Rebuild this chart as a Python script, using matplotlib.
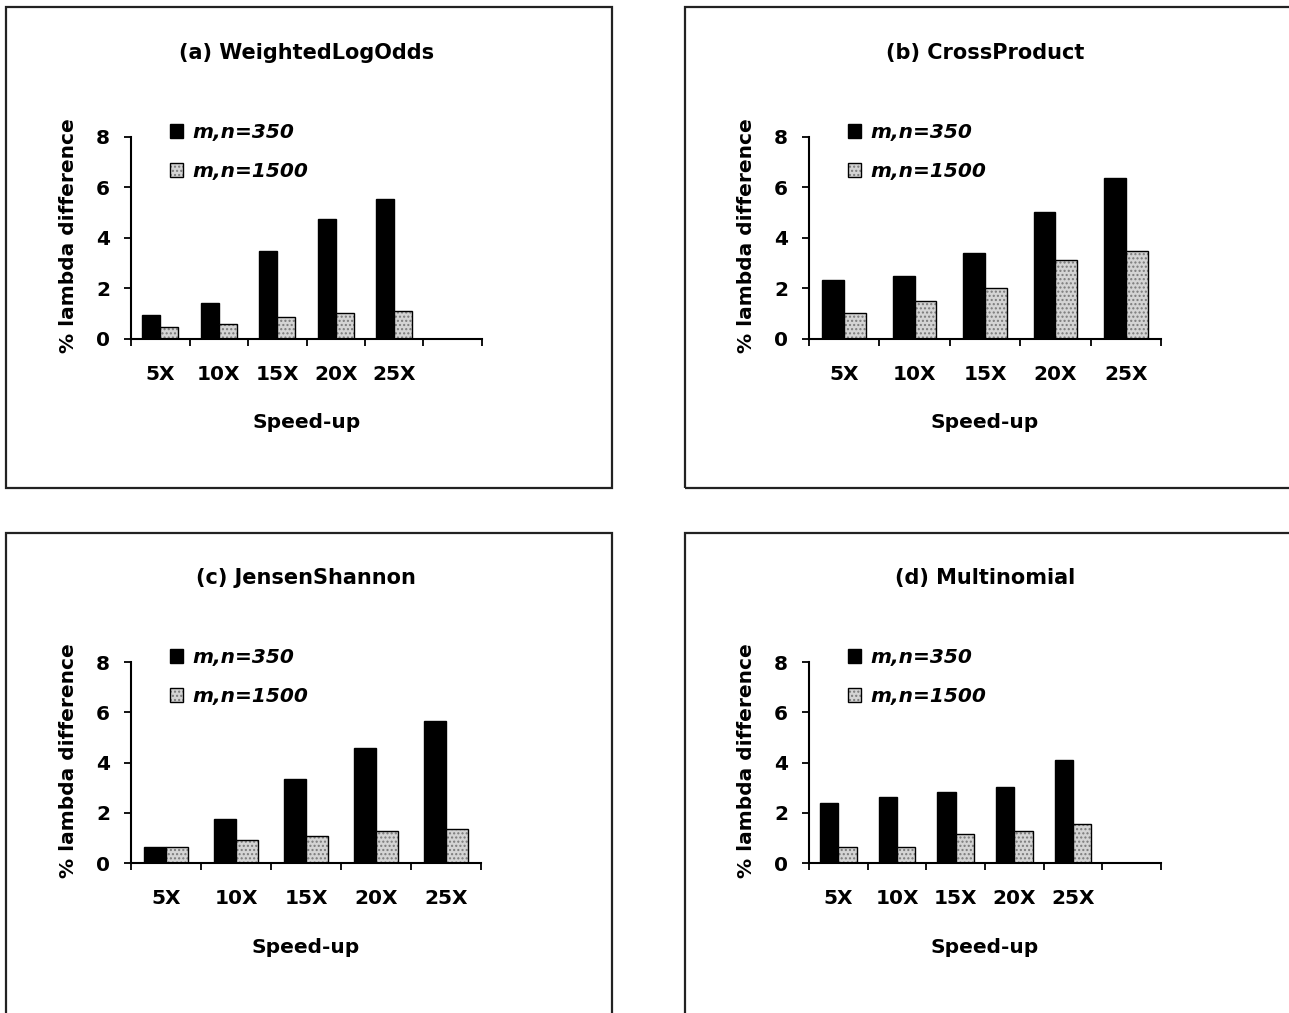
import numpy as np
import matplotlib
matplotlib.use('Agg')
import matplotlib.pyplot as plt
from matplotlib.patches import Rectangle

# data
speedups = ['5X', '10X', '15X', '20X', '25X']
titles = ['(a) WeightedLogOdds', '(b) CrossProduct',
          '(c) JensenShannon', '(d) Multinomial']
series_names = ['m,n=350', 'm,n=1500']

wlo_350 = [0.95, 1.41, 3.48, 4.77, 5.56]
wlo_1500 = [0.47, 0.59, 0.86, 1.04, 1.12]
cp_350 = [2.32, 2.49, 3.39, 5.01, 6.39]
cp_1500 = [1.04, 1.49, 2.02, 3.11, 3.48]
js_350 = [0.64, 1.74, 3.36, 4.58, 5.67]
js_1500 = [0.64, 0.90, 1.08, 1.26, 1.37]
mn_350 = [2.37, 2.64, 2.84, 3.03, 4.10]
mn_1500 = [0.64, 0.64, 1.17, 1.26, 1.55]

# (a) and (d) have an extra empty category slot on the x axis
n_slots = [6, 5, 5, 6]

W, H = 1289, 1013
plt.rcParams['font.family'] = ['DejaVu Sans']
plt.rcParams['hatch.linewidth'] = 1.0

fig = plt.figure(figsize=(W / 100, H / 100), dpi=100)


def fx(px):
    return px / W


def fy(py):
    return 1 - py / H


# pixel layout of each panel: box, axes
panels = [
    dict(box=(6, 7, 612, 488), ax=(131, 137, 482, 339)),
    dict(box=(685, 7, 1300, 488), ax=(809, 137, 1161, 339)),
    dict(box=(6, 533, 612, 1020), ax=(131, 662, 481, 863)),
    dict(box=(685, 533, 1300, 1020), ax=(809, 662, 1161, 863)),
]
data = [(wlo_350, wlo_1500), (cp_350, cp_1500), (js_350, js_1500), (mn_350, mn_1500)]

fs = 14.5
bw = 0.31
gray = '#d4d4d4'

for i, p in enumerate(panels):
    bx0, by0, bx1, by1 = p['box']
    fig.add_artist(Rectangle((fx(bx0), fy(by1)), fx(bx1 - bx0), (by1 - by0) / H,
                             transform=fig.transFigure, fill=False,
                             edgecolor='#222222', lw=1.6))

    x0, y0, x1, y1 = p['ax']
    ax = fig.add_axes([fx(x0), fy(y1), fx(x1 - x0), (y1 - y0) / H])
    s350, s1500 = data[i]
    x = np.arange(len(s350))

    b1 = ax.bar(x - bw / 2, s350, bw, color='black', edgecolor='black', lw=1)
    b2h = ax.bar(x + bw / 2, s1500, bw, color=gray, edgecolor='#7a7a7a',
                 hatch='....', lw=0)
    b2e = ax.bar(x + bw / 2, s1500, bw, fill=False, edgecolor='black', lw=1)

    ax.set_xlim(-0.5, n_slots[i] - 0.5)
    ax.set_ylim(0, 8)
    ax.set_yticks([0, 2, 4, 6, 8])
    ax.set_xticks(x)
    ax.set_xticklabels(speedups)
    ax.set_xticks(np.arange(n_slots[i] + 1) - 0.5, minor=True)
    ax.tick_params(axis='x', which='major', length=0, pad=19)
    ax.tick_params(axis='x', which='minor', length=5, width=1.3, direction='out')
    ax.tick_params(axis='y', length=5, width=1.3, pad=10)
    for lab in ax.get_xticklabels() + ax.get_yticklabels():
        lab.set_fontsize(fs)
        lab.set_fontweight('bold')
    for side in ['top', 'right']:
        ax.spines[side].set_visible(False)
    for side in ['left', 'bottom']:
        ax.spines[side].set_linewidth(1.5)

    ax.legend([b1[0], (b2h[0], b2e[0])], series_names, loc='upper left',
              bbox_to_anchor=(39 / (x1 - x0), 1 + 14 / (y1 - y0)),
              borderaxespad=0, borderpad=0, frameon=False,
              handlelength=0.65, handleheight=0.65, handletextpad=0.45,
              labelspacing=1.0,
              prop=dict(size=fs, weight='bold', style='italic'))

    cx = (x0 + x1) / 2
    fig.text(fx(cx), fy(y0 - 84), titles[i], ha='center', va='center',
             fontsize=15, fontweight='bold')
    fig.text(fx(cx), fy(y1 + 84), 'Speed-up', ha='center', va='center',
             fontsize=fs, fontweight='bold')
    fig.text(fx(x0 - 63), fy((y0 + y1) / 2 - 2), '% lambda difference',
             rotation=90, ha='center', va='center', fontsize=fs, fontweight='bold')

fig.savefig('out.png', dpi=100)
